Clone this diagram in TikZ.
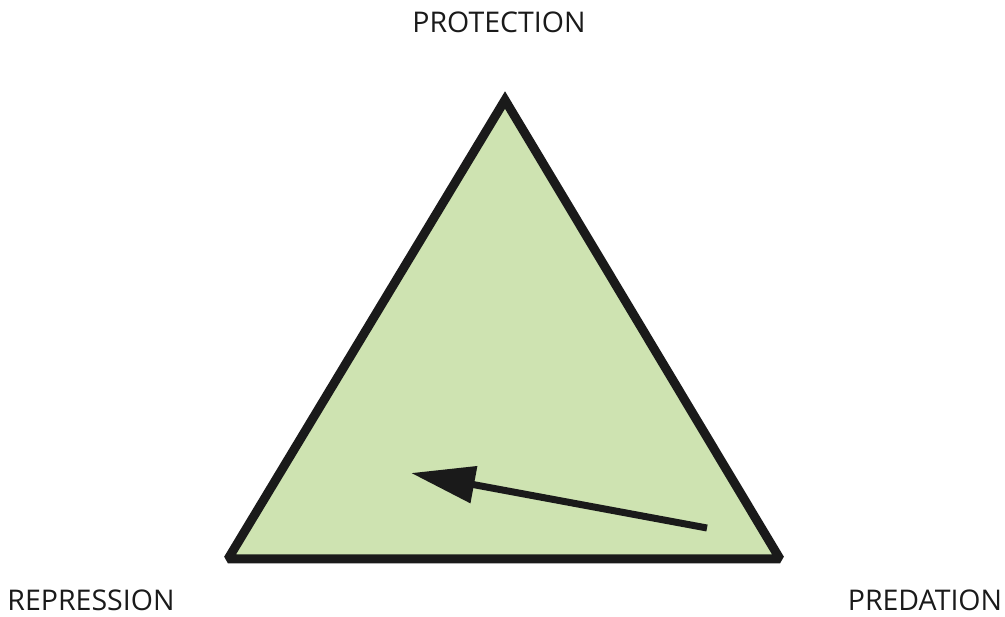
\documentclass[tikz,border=0pt]{standalone}
\usepackage{fontspec}
\setmainfont{Open Sans}
\usetikzlibrary{arrows.meta}
\definecolor{feuille}{RGB}{206,227,177}
\definecolor{encre}{RGB}{26,26,26}
\tikzset{
    sommet/.style={font=\fontsize{28.5}{31}\selectfont, text=encre, inner sep=0pt},
    bord/.style={line width=9pt, draw=encre, fill=feuille, line join=miter, miter limit=2},
    fleche/.style={line width=7pt, draw=encre, -{Triangle[length=64pt,width=36pt]}}
}
\begin{document}
\begin{tikzpicture}[x=1pt, y=-1pt]
    \useasboundingbox (0,0) rectangle (1005,617);
    % Sommets du triangle
    \coordinate (haut) at (505,100);
    \coordinate (gauche) at (228,559);
    \coordinate (droite) at (780,559);
    \draw[bord] (haut) -- (droite) -- (gauche) -- cycle;

    % Etiquettes
    \node[sommet] (protection) at (499,22) {PROTECTION};
    \node[sommet] (repression) at (91,600) {REPRESSION};
    \node[sommet] (predation) at (925,600) {PREDATION};

    % Fleche
    \coordinate (depart) at (707,528);
    \coordinate (arrivee) at (411,473);
    \draw[fleche] (depart) -- (arrivee);
\end{tikzpicture}
\end{document}
